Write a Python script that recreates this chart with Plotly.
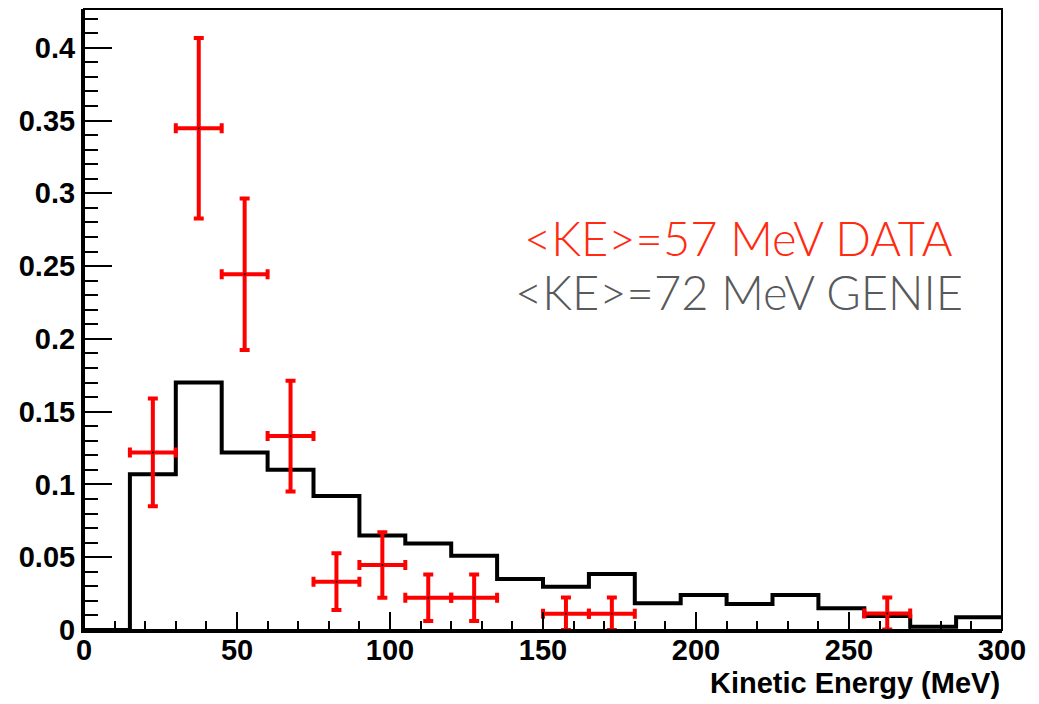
import plotly.graph_objects as go

# GENIE histogram: 15 MeV bins from 0 to 300
genie_edges = [0, 15, 30, 45, 60, 75, 90, 105, 120, 135, 150, 165, 180, 195, 210, 225, 240, 255, 270, 285, 300]
genie_vals = [0.0, 0.107, 0.170, 0.122, 0.110, 0.092, 0.065, 0.0595, 0.051, 0.035,
              0.0297, 0.0384, 0.0183, 0.024, 0.0178, 0.024, 0.0149, 0.0096, 0.0023, 0.0087]

# Data points
data_x = [22.5, 37.5, 52.5, 67.5, 82.5, 97.5, 112.5, 127.5, 157.5, 172.5, 262.5]
data_y = [0.122, 0.3446, 0.2444, 0.1332, 0.0332, 0.0446, 0.0222, 0.0222, 0.0112, 0.0112, 0.0114]
data_err = [0.037, 0.062, 0.052, 0.038, 0.0195, 0.0225, 0.016, 0.016, 0.0112, 0.0112, 0.011]
data_xerr = [7.5] * len(data_x)

fig = go.Figure()

fig.add_trace(go.Scatter(
    x=genie_edges, y=genie_vals + [genie_vals[-1]],
    mode="lines", line=dict(shape="hv", color="black", width=4),
    hoverinfo="skip", showlegend=False,
))

fig.add_trace(go.Scatter(
    x=data_x, y=data_y, mode="markers",
    marker=dict(color="black", size=2),
    error_y=dict(type="data", array=data_err, color="#ff0000", thickness=4, width=5),
    error_x=dict(type="data", array=data_xerr, color="#ff0000", thickness=4, width=5),
    showlegend=False,
))

tickfont = dict(family="Liberation Sans", size=29, color="black", weight="bold")

fig.update_xaxes(
    range=[0, 300], tickvals=[0, 50, 100, 150, 200, 250, 300],
    ticks="inside", ticklen=18, tickwidth=2, tickcolor="black",
    minor=dict(ticks="inside", ticklen=9, tickwidth=2, tickcolor="black", dtick=10),
    showline=True, linecolor="black", linewidth=3,
    showgrid=False, zeroline=False, tickfont=tickfont,
    ticklabelstandoff=-8,
)
fig.update_yaxes(
    range=[0, 0.4266], tickvals=[0, 0.05, 0.1, 0.15, 0.2, 0.25, 0.3, 0.35, 0.4],
    ticktext=["0", "0.05", "0.1", "0.15", "0.2", "0.25", "0.3", "0.35", "0.4"],
    ticks="inside", ticklen=28, tickwidth=2, tickcolor="black",
    minor=dict(ticks="inside", ticklen=14, tickwidth=2, tickcolor="black", dtick=0.01),
    showline=True, linecolor="black", linewidth=3,
    showgrid=False, zeroline=False, tickfont=tickfont,
)

fig.add_shape(type="rect", xref="paper", yref="paper", x0=0, x1=1, y0=0, y1=1,
              line=dict(color="black", width=2), layer="above")

fig.add_annotation(text="Kinetic Energy (MeV)", xref="paper", yref="paper",
                   x=1.0, y=-0.085, xanchor="right", yanchor="middle", showarrow=False,
                   font=dict(family="Liberation Sans", size=29, color="black", weight="bold"))

fig.add_annotation(text="&lt;KE&gt;=57 MeV DATA", x=214, y=0.269, xref="x", yref="y",
                   xanchor="center", yanchor="middle", showarrow=False,
                   font=dict(family="Lato", size=47, color="#ff2a10", weight=300))
fig.add_annotation(text="&lt;KE&gt;=72 MeV GENIE", x=214, y=0.232, xref="x", yref="y",
                   xanchor="center", yanchor="middle", showarrow=False,
                   font=dict(family="Lato", size=47, color="#58595b", weight=300))

fig.update_layout(
    width=1039, height=704,
    margin=dict(l=84, r=37, t=9, b=74),
    paper_bgcolor="white", plot_bgcolor="white",
)

fig.write_html("out.html")
